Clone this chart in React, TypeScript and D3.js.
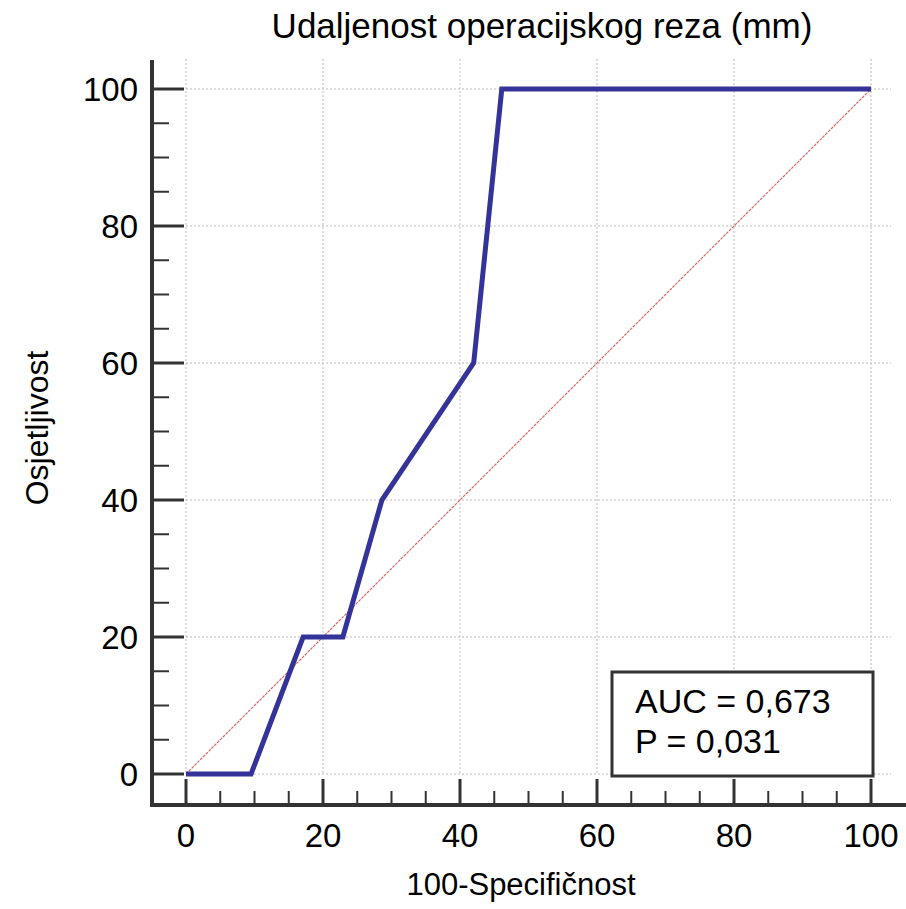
import React from "react";
import * as d3 from "d3";

const rocX = [0, 9.5, 17.1, 22.9, 28.6, 42.0, 46.1, 100];
const rocY = [0, 0, 20, 20, 40, 60, 100, 100];
const majorTicks = [0, 20, 40, 60, 80, 100];
const minorTicks = d3.range(0, 101, 5).filter((v) => v % 20 !== 0);
const titleText = "Udaljenost operacijskog reza (mm)";
const xTitle = "100-Specifičnost";
const yTitle = "Osjetljivost";
const legendLines = ["AUC = 0,673", "P = 0,031"];

export default function App() {
  const W = 906, H = 909;
  const x = d3.scaleLinear().domain([0, 100]).range([186, 871]);
  const y = d3.scaleLinear().domain([0, 100]).range([774, 89]);
  const axisX = 152; // left axis line
  const axisY = 805; // bottom axis line
  const font = "Liberation Sans, Arial, sans-serif";
  const line = d3.line<number>().x((_, i) => x(rocX[i])).y((d) => y(d));
  const axisColor = "#333";
  return (
    <svg width={W} height={H} style={{ position: "absolute", left: 0, top: 0, background: "#fff" }}>
      <rect width={W} height={H} fill="#fff" />
      {/* grid */}
      {majorTicks.map((t) => (
        <g key={"g" + t}>
          <line x1={x(t)} x2={x(t)} y1={y(100) - 30} y2={y(0)} stroke="#bbb" strokeWidth={1} strokeDasharray="2,2" />
          <line x1={x(0)} x2={x(100) + 20} y1={y(t)} y2={y(t)} stroke="#bbb" strokeWidth={1} strokeDasharray="2,2" />
        </g>
      ))}
      {/* diagonal */}
      <line x1={x(0)} y1={y(0)} x2={x(100)} y2={y(100)} stroke="#d46a6a" strokeWidth={1.2} strokeDasharray="3,1" />
      {/* ROC */}
      <path d={line(rocY) || ""} fill="none" stroke="#333399" strokeWidth={5} strokeLinejoin="miter" />
      {/* axes */}
      <line x1={axisX} x2={axisX} y1={60} y2={axisY + 2} stroke={axisColor} strokeWidth={4} />
      <line x1={axisX - 2} x2={W} y1={axisY} y2={axisY} stroke={axisColor} strokeWidth={4} />
      {majorTicks.map((t) => (
        <g key={"t" + t}>
          <line x1={axisX} x2={184} y1={y(t)} y2={y(t)} stroke={axisColor} strokeWidth={3} />
          <line x1={x(t)} x2={x(t)} y1={779} y2={axisY} stroke={axisColor} strokeWidth={3} />
          <text x={138} y={y(t)} dy="0.355em" textAnchor="end" fontFamily={font} fontSize={33} fill="#000">{t}</text>
          <text x={x(t)} y={847} textAnchor="middle" fontFamily={font} fontSize={33} fill="#000">{t}</text>
        </g>
      ))}
      {minorTicks.map((t) => (
        <g key={"m" + t}>
          <line x1={axisX} x2={169} y1={y(t)} y2={y(t)} stroke={axisColor} strokeWidth={2} />
          <line x1={x(t)} x2={x(t)} y1={791} y2={axisY} stroke={axisColor} strokeWidth={2} />
        </g>
      ))}
      {/* titles */}
      <text x={542} y={38} textAnchor="middle" fontFamily={font} fontSize={35} fill="#000">{titleText}</text>
      <text x={521} y={895} textAnchor="middle" fontFamily={font} fontSize={31} fill="#000">{xTitle}</text>
      <text transform="translate(48,428) rotate(-90)" textAnchor="middle" fontFamily={font} fontSize={32} fill="#000">{yTitle}</text>
      {/* legend */}
      <rect x={612} y={672} width={261} height={104} fill="#fff" stroke={axisColor} strokeWidth={3} />
      {legendLines.map((s, i) => (
        <text key={s} x={635} y={713 + i * 40} fontFamily={font} fontSize={34} fill="#000">{s}</text>
      ))}
    </svg>
  );
}
